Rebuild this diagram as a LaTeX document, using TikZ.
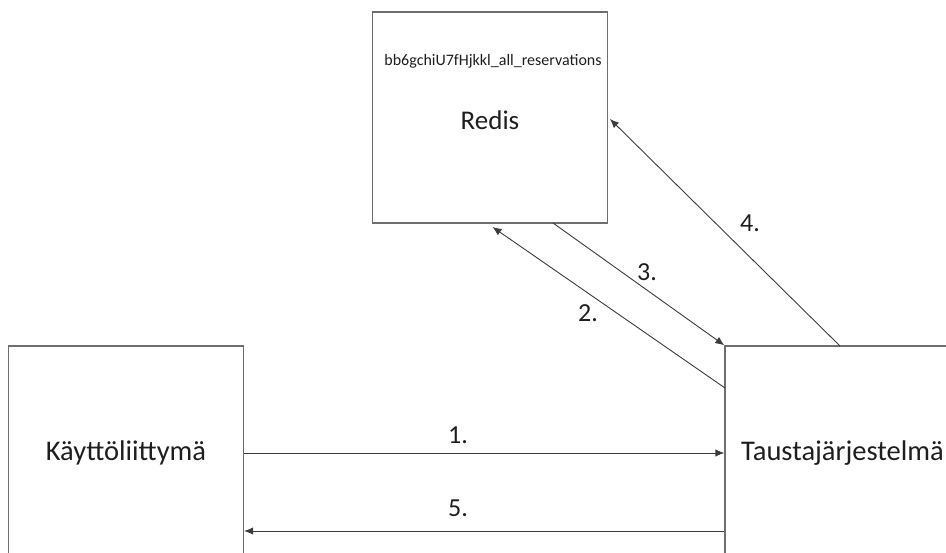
\documentclass[tikz,border=0pt]{standalone}
\usepackage{fontspec}
\setmainfont{Carlito}
\usetikzlibrary{arrows.meta,calc}
\definecolor{boxline}{RGB}{110,110,110}
\definecolor{arrline}{RGB}{60,60,60}
\definecolor{txt}{RGB}{30,30,30}
\tikzset{
  blockbox/.style={draw=boxline,line width=1.4pt,rectangle,minimum width=235pt,inner sep=0pt,text=txt,font=\fontsize{28.5}{32}\selectfont},
  flow/.style={draw=arrline,line width=0.9pt,-{Latex[length=9pt,width=7.5pt]}},
  steplabel/.style={text=txt,font=\fontsize{26}{30}\selectfont,inner sep=0pt},
}
\begin{document}
\begin{tikzpicture}[x=1pt,y=-1pt]
\useasboundingbox (0,0) rectangle (946,553);
\clip (0,0) rectangle (946,553);
\node[blockbox,minimum height=211pt] (R) at (490,117.5) {};
\node[text=txt,font=\fontsize{16}{19}\selectfont,inner sep=0pt] (Rkey) at (493,61) {bb6gchiU7fHjkkl\_all\_reservations};
\node[text=txt,font=\fontsize{27}{31}\selectfont,inner sep=0pt] (Rname) at (490,120) {Redis};
\node[blockbox,minimum height=214pt] (K) at (126,453) {Käyttöliittymä};
\node[blockbox,minimum height=214pt] (T) at (842.5,453) {Taustajärjestelmä};
\coordinate (y5) at (0,531);
\coordinate (s2) at (725,388);
\coordinate (e2) at (492.5,227);
\coordinate (s3) at (553,223);
\coordinate (s4) at (840,346);
\coordinate (e4) at (610,119);
\draw[flow] (K.east) -- (T.west);
\draw[flow] (T.west |- y5) -- (K.east |- y5);
\draw[flow] (s2) -- (e2);
\draw[flow] (s3) -- (T.north west);
\draw[flow] (s4) -- (e4);
\node[steplabel] (l1) at (458,435) {1.};
\node[steplabel] (l2) at (588,313) {2.};
\node[steplabel] (l3) at (647,272) {3.};
\node[steplabel] (l4) at (750,223) {4.};
\node[steplabel] (l5) at (458,508) {5.};
\end{tikzpicture}
\end{document}
